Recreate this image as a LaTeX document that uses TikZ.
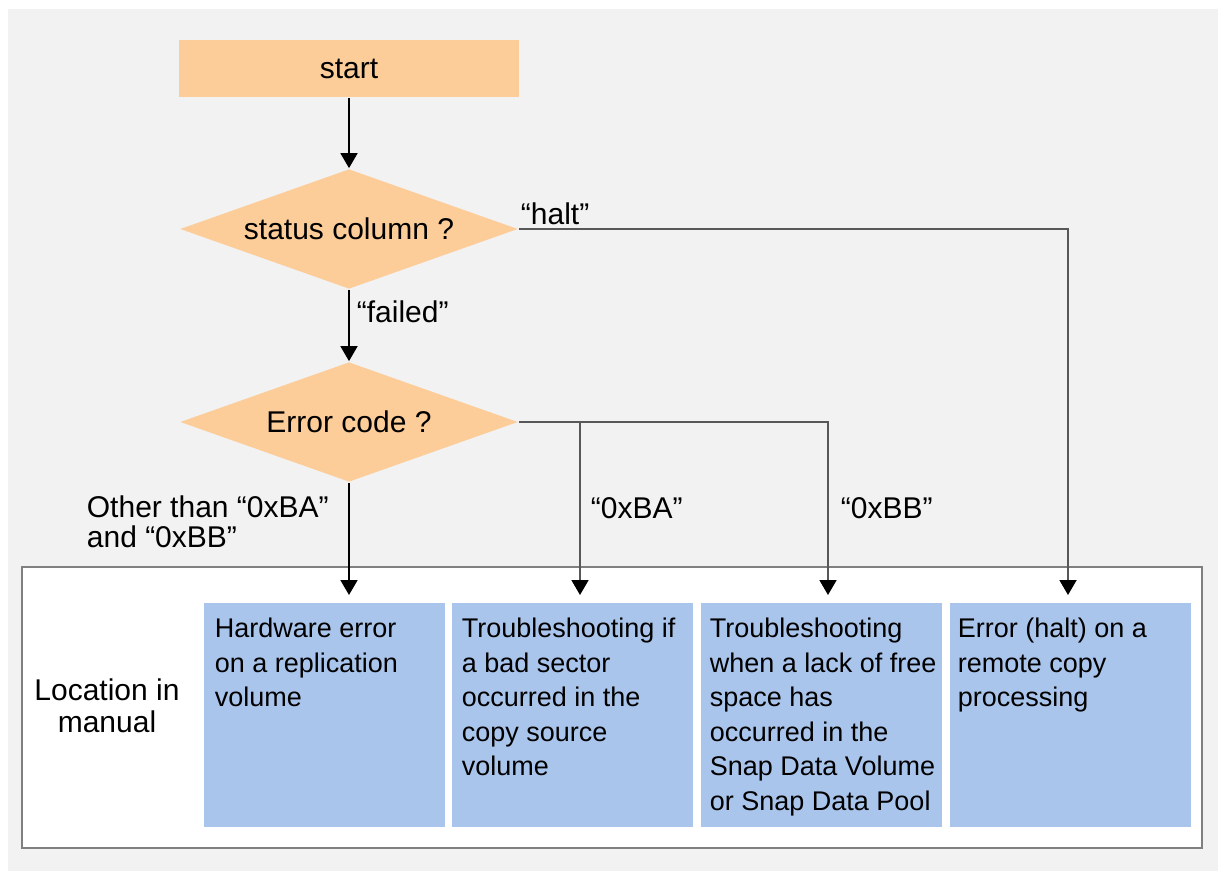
\documentclass[tikz,border=0pt]{standalone}
\usepackage{fontspec}
\setmainfont{Liberation Sans}
\usepackage{xcolor}
\usetikzlibrary{arrows.meta,calc,positioning,shapes.geometric}

\begin{document}
\begin{tikzpicture}[x=1pt,y=-1pt,line width=1.8pt]
  \definecolor{flowpeach}{RGB}{252,204,153}
  \definecolor{flowblue}{RGB}{170,197,236}
  \definecolor{flowback}{RGB}{242,242,242}
  \definecolor{flowline}{RGB}{88,88,88}
  \definecolor{flowframe}{RGB}{128,128,128}
  \tikzset{ftxt/.style={font=\fontsize{27}{34.6}\selectfont},
    ltxt/.style={font=\fontsize{30}{30}\selectfont,inner sep=0pt},
    decbox/.style={diamond,fill=flowpeach,aspect=2.86,minimum width=338pt,minimum height=120pt,inner sep=0pt,ltxt},
    locbox/.style={fill=flowblue,minimum width=241pt,minimum height=224pt,inner sep=0pt,anchor=north west},
    loctxt/.style={ftxt,align=left,inner sep=0pt},
    flowarrow/.style={-{Triangle[length=15pt,width=17pt,color=black]}}}
  \useasboundingbox (0,0) rectangle (1230,875);
  \fill[flowback] (8,9) rectangle (1218,871);
  \draw[flowframe,line width=1.3pt,fill=white] (22,567) rectangle (1202,848);
  \node[fill=flowpeach,minimum width=340pt,minimum height=57pt,ltxt] (start) at (349,68.5) {start};
  \node[decbox] (status) at (349,229) {status column ?};
  \node[decbox] (errcode) at (349,422) {Error code ?};
  \node[locbox] (hw) at (203,602) {};
  \node[locbox] (bad) at (451,602) {};
  \node[locbox] (lack) at (700,602) {};
  \node[locbox] (remote) at (949,602) {};
  \node[loctxt,below right=15pt and 11pt of hw.north west] (hwtxt) {Hardware error\\on a replication\\volume};
  \node[loctxt,below right=15pt and 10pt of bad.north west] (badtxt) {Troubleshooting if\\a bad sector\\occurred in the\\copy source\\volume};
  \node[loctxt,below right=15pt and 9pt of lack.north west] (lacktxt) {Troubleshooting\\when a lack of free\\space has\\occurred in the\\Snap Data Volume\\or Snap Data Pool};
  \node[loctxt,below right=15pt and 8pt of remote.north west] (remotetxt) {Error (halt) on a\\remote copy\\processing};
  \node[ltxt,align=center,font=\fontsize{30}{32}\selectfont] (manual) at (107,706) {Location in\\manual};
  \coordinate (hwend) at (349,595);
  \coordinate (badjoin) at (580,422);
  \coordinate (badend) at (580,595);
  \coordinate (lackend) at (828,595);
  \coordinate (remoteend) at (1068,595);
  \draw[flowarrow] (start) -- (status);
  \draw[flowarrow] (status) -- (errcode);
  \draw[flowarrow] (errcode.south) -- (hwend);
  \draw[flowline,flowarrow] (status.east) -| (remoteend);
  \draw[flowline,flowarrow] (errcode.east) -| (lackend);
  \draw[flowline,flowarrow] (badjoin) -- (badend);
  \node[ltxt,anchor=south west] (halt) at (520,226) {“halt”};
  \node[ltxt,anchor=west] (failed) at (356,312) {“failed”};
  \node[ltxt,align=left,anchor=north west] (other) at (86,495) {Other than “0xBA”\\and “0xBB”};
  \node[ltxt,anchor=west] (ba) at (590,508) {“0xBA”};
  \node[ltxt,anchor=west] (bb) at (840,508) {“0xBB”};
\end{tikzpicture}
\end{document}
